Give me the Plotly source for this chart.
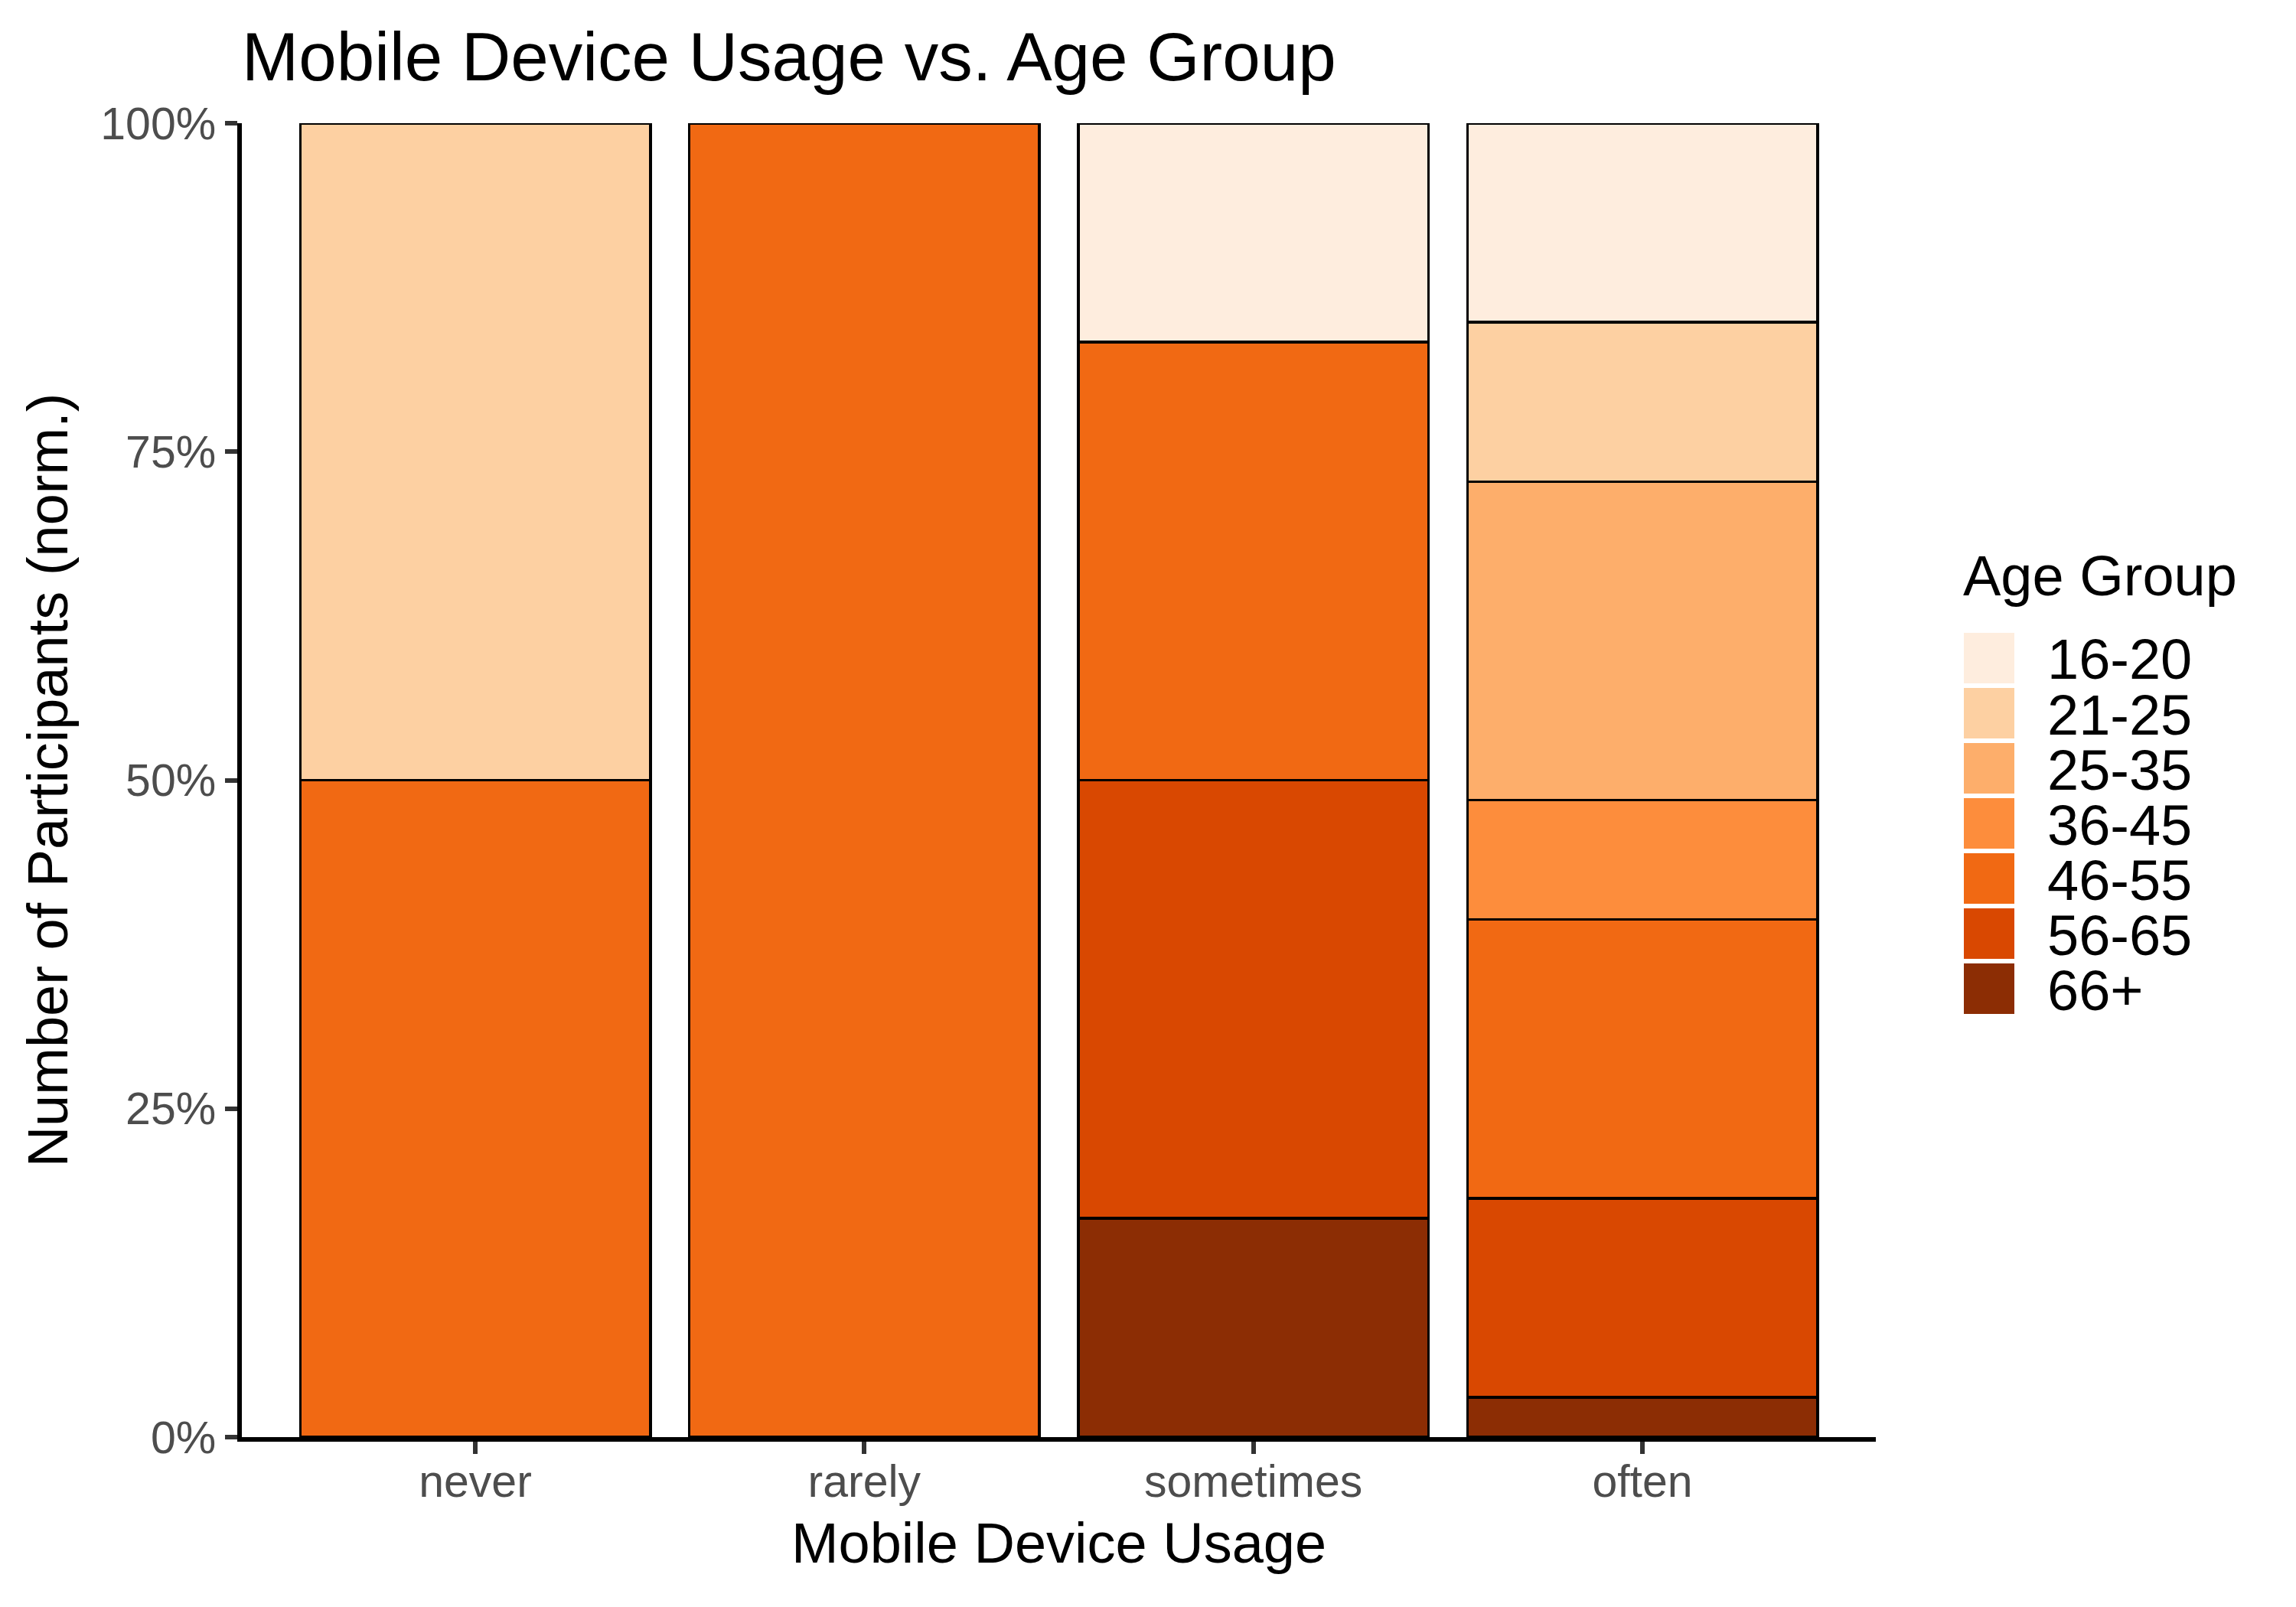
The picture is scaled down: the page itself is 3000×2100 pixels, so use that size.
import plotly.graph_objects as go

# ---- data ----
categories = ["never", "rarely", "sometimes", "often"]
age_groups = ["16-20", "21-25", "25-35", "36-45", "46-55", "56-65", "66+"]
counts_16_20 = [0, 0, 1, 5]
counts_21_25 = [1, 0, 0, 4]
counts_25_35 = [0, 0, 0, 8]
counts_36_45 = [0, 0, 0, 3]
counts_46_55 = [1, 1, 2, 7]
counts_56_65 = [0, 0, 2, 5]
counts_66_plus = [0, 0, 1, 1]
y_tick_vals = [0, 25, 50, 75, 100]
y_tick_text = ["0%", "25%", "50%", "75%", "100%"]

colors = ["#feedde", "#fdd0a2", "#fdae6b", "#fd8d3c", "#f16913", "#d94801", "#8c2d04"]
series = [counts_16_20, counts_21_25, counts_25_35, counts_36_45,
          counts_46_55, counts_56_65, counts_66_plus]

W, H = 3000, 2100
L, R, T, B = 316, 2451, 161, 1878  # plot area in pixels
FONT = "Liberation Sans, Arial, Helvetica, sans-serif"

fig = go.Figure()
# ggplot stacks the first level on top -> add in reverse order
for name, vals, col in reversed(list(zip(age_groups, series, colors))):
    fig.add_trace(go.Bar(
        x=categories, y=vals, name=name,
        marker=dict(color=col, line=dict(color="black", width=3.5)),
        showlegend=False, cliponaxis=False,
    ))

def px_x(p):
    return (p - L) / (R - L)

def px_y(p):
    return (B - p) / (B - T)

# manual legend (ggplot-style square keys)
shapes = []
annotations = []
annotations.append(dict(
    text="Age Group", xref="paper", yref="paper",
    x=px_x(2563), y=px_y(752), xanchor="left", yanchor="middle",
    showarrow=False, font=dict(family=FONT, size=74, color="black")))
for i, (name, col) in enumerate(zip(age_groups, colors)):
    top = 827 + 72 * i
    shapes.append(dict(
        type="rect", xref="paper", yref="paper",
        x0=px_x(2566), x1=px_x(2632), y0=px_y(top + 66), y1=px_y(top),
        fillcolor=col, line=dict(width=0)))
    annotations.append(dict(
        text=name, xref="paper", yref="paper",
        x=px_x(2673), y=px_y(top + 35), xanchor="left", yanchor="middle",
        showarrow=False, font=dict(family=FONT, size=74, color="black")))

fig.update_layout(
    width=W, height=H,
    margin=dict(l=L, r=W - R, t=T, b=H - B, autoexpand=False),
    barmode="stack", barnorm="percent", bargap=0.1,
    plot_bgcolor="white", paper_bgcolor="white",
    font=dict(family=FONT, color="black"),
    title=dict(text="Mobile Device Usage vs. Age Group",
               x=0, xref="paper", xanchor="left",
               y=1 - 74 / H, yref="container", yanchor="middle",
               font=dict(family=FONT, size=89, color="black")),
    xaxis=dict(
        categoryorder="array", categoryarray=categories,
        range=[-0.6, 3.6], showline=True, linecolor="black", linewidth=6,
        ticks="outside", ticklen=16, tickwidth=6, tickcolor="#333333",
        ticklabelstandoff=-15,
        tickfont=dict(family=FONT, size=59, color="#4d4d4d"),
        showgrid=False, zeroline=False,
        title=dict(text="Mobile Device Usage", standoff=24,
                   font=dict(family=FONT, size=74, color="black")),
    ),
    yaxis=dict(
        range=[0, 100], tickvals=y_tick_vals, ticktext=y_tick_text,
        showline=True, linecolor="black", linewidth=6,
        ticks="outside", ticklen=16, tickwidth=6, tickcolor="#333333",
        tickfont=dict(family=FONT, size=59, color="#4d4d4d"),
        showgrid=False, zeroline=False,
        title=dict(text="Number of Participants (norm.)", standoff=20,
                   font=dict(family=FONT, size=74, color="black")),
    ),
    shapes=shapes, annotations=annotations,
)

fig.write_html("out.html",
               config={"displayModeBar": False},
               post_script="document.body.style.margin='0';")
